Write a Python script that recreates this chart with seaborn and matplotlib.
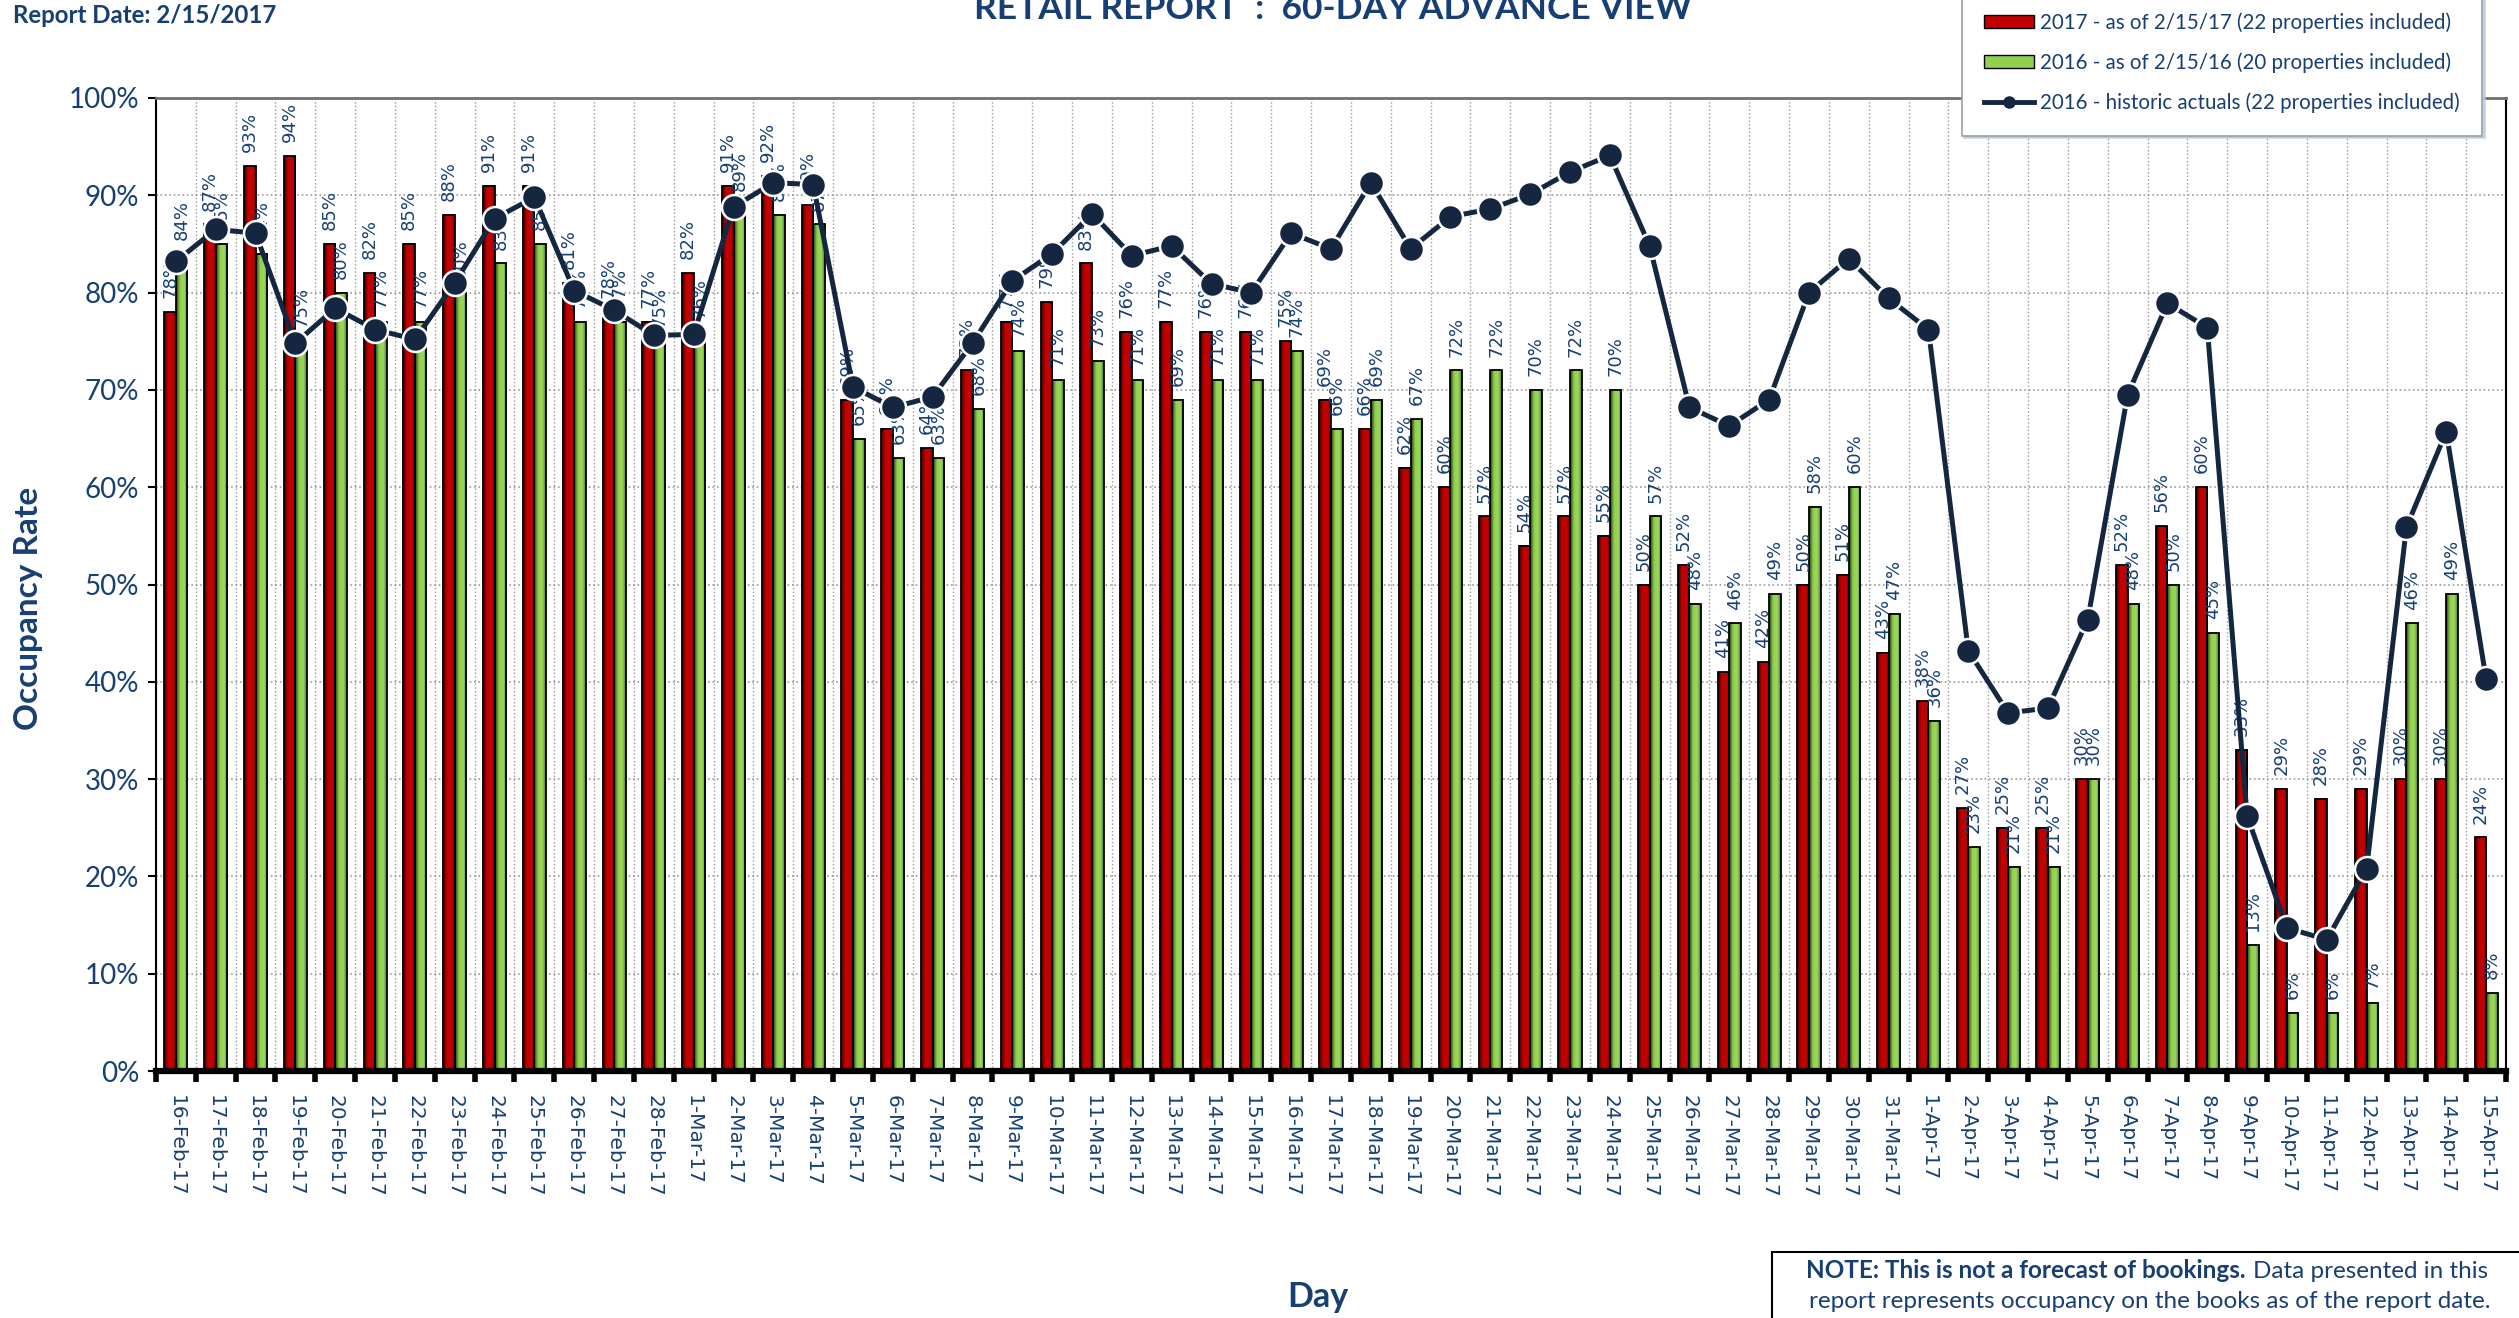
import numpy as np
import pandas as pd
import seaborn as sns
import matplotlib.pyplot as plt
from matplotlib.colors import LinearSegmentedColormap
from matplotlib.patches import Patch, Rectangle
from matplotlib.lines import Line2D
from matplotlib.ticker import FuncFormatter

days = (['%d-Feb-17' % d for d in range(16, 29)] + ['%d-Mar-17' % d for d in range(1, 32)]
        + ['%d-Apr-17' % d for d in range(1, 16)])

occ_2017 = [78, 87, 93, 94, 85, 82, 85, 88, 91, 91, 81, 78, 77, 82, 91, 92, 89, 69, 66, 64,
            72, 77, 79, 83, 76, 77, 76, 76, 75, 69, 66, 62, 60, 57, 54, 57, 55, 50, 52, 41,
            42, 50, 51, 43, 38, 27, 25, 25, 30, 52, 56, 60, 33, 29, 28, 29, 30, 30, 24]
occ_2016 = [84, 85, 84, 75, 80, 77, 77, 80, 83, 85, 77, 77, 75, 76, 89, 88, 87, 65, 63, 63,
            68, 74, 71, 73, 71, 69, 71, 71, 74, 66, 69, 67, 72, 72, 70, 72, 70, 57, 48, 46,
            49, 58, 60, 47, 36, 23, 21, 21, 30, 48, 50, 45, 13, 6, 6, 7, 46, 49, 8]
hist_2016 = [83.2, 86.5, 86.1, 74.8, 78.4, 76.2, 75.2, 81.0, 87.6, 89.8, 80.2, 78.2, 75.6, 75.7,
             88.8, 91.3, 91.1, 70.3, 68.2, 69.3, 74.8, 81.2, 84.0, 88.1, 83.8, 84.8, 80.9, 80.0,
             86.1, 84.5, 91.3, 84.5, 87.8, 88.6, 90.1, 92.4, 94.1, 84.8, 68.2, 66.3, 69.0, 80.0,
             83.5, 79.4, 76.2, 43.2, 36.8, 37.3, 46.4, 69.5, 78.9, 76.4, 26.2, 14.7, 13.5, 20.8,
             55.9, 65.7, 40.3]

series = ['2017 - as of 2/15/17 (22 properties included)',
          '2016 - as of 2/15/16 (20 properties included)']
line_name = '2016 - historic actuals (22 properties included)'

navy = '#142640'
blue_txt = '#173F73'
red = '#C00000'
green = '#92D050'

bars = pd.DataFrame({'day': days * 2,
                     'rate': occ_2017 + occ_2016,
                     'series': [series[0]] * len(days) + [series[1]] * len(days)})
hist = pd.DataFrame({'pos': np.arange(len(days)), 'rate': hist_2016})

fig = plt.figure(figsize=(25.19, 13.18), dpi=100)
ax = fig.add_axes([156 / 2519, 1 - 1071 / 1318, 2350 / 2519, 973 / 1318])

sns.barplot(data=bars, x='day', y='rate', hue='series', order=days, hue_order=series,
            palette=[red, green], width=0.58, edgecolor='black', linewidth=1.3,
            legend=False, ax=ax)

# excel style gradient fill on every bar
grad = np.linspace(0, 1, 64).reshape(1, -1)
cmaps = [LinearSegmentedColormap.from_list('r', [(0, '#1a0000'), (0.18, '#8a0000'), (0.35, '#c00000'),
                                                 (0.75, '#c40000'), (1, '#6a0000')]),
         LinearSegmentedColormap.from_list('g', [(0, '#1a2a0a'), (0.18, '#5e8f2e'), (0.35, '#92d050'),
                                                 (0.7, '#9ad85c'), (1, '#4f7826')])]
for cont, cm, vals in zip(ax.containers, cmaps, [occ_2017, occ_2016]):
    for rect in cont:
        x0, w, h = rect.get_x(), rect.get_width(), rect.get_height()
        ax.imshow(grad, cmap=cm, extent=(x0, x0 + w, 0, h), aspect='auto',
                  interpolation='bilinear', zorder=1.5)
        rect.set_facecolor('none')
        rect.set_zorder(1.6)
    ax.bar_label(cont, labels=['%d%%' % v for v in vals], rotation=90, padding=10,
                 color=blue_txt, fontsize=13, family='DejaVu Sans', zorder=3)

sns.lineplot(data=hist, x='pos', y='rate', color=navy, linewidth=3.6, marker='o',
             markersize=18, markeredgecolor='white', markeredgewidth=1.8,
             ax=ax, zorder=4, legend=False)

ax.set_xlim(-0.5, len(days) - 0.5)
ax.set_ylim(0, 100)
ax.set_yticks(np.arange(0, 101, 10))
ax.yaxis.set_major_formatter(FuncFormatter(lambda v, p: '%d%%' % v))
ax.set_xticks(np.arange(len(days)))
ax.set_xticklabels(days, rotation=270, fontsize=14.5, color=blue_txt, family='DejaVu Sans')
ax.set_xticks(np.arange(len(days) + 1) - 0.5, minor=True)
ax.tick_params(axis='x', which='major', length=0, pad=17)
ax.tick_params(axis='x', which='minor', length=8, width=4, color='black')
ax.tick_params(axis='y', length=6, width=1.5, color='black', labelsize=20, labelcolor=blue_txt, pad=6)
for t in ax.get_yticklabels():
    t.set_family('Lato')
ax.set_xlabel('')
ax.set_ylabel('')

ax.set_axisbelow(True)
ax.grid(which='minor', axis='x', ls=':', color='#9a9a9a', lw=1)
ax.grid(which='major', axis='y', ls=':', color='#9a9a9a', lw=1.2)
ax.grid(which='major', axis='x', visible=False)
ax.spines['bottom'].set_linewidth(4.5)
ax.spines['bottom'].set_color('black')
ax.spines['left'].set_color('black')
ax.spines['left'].set_linewidth(1.5)
ax.spines['right'].set_color('black')
ax.spines['right'].set_linewidth(1.5)
ax.spines['top'].set_color('#707070')
ax.spines['top'].set_linewidth(2)

handles = [Patch(facecolor=red, edgecolor='black', lw=1),
           Patch(facecolor=green, edgecolor='black', lw=1),
           Line2D([], [], color=navy, lw=3.5, marker='o', markersize=8)]
leg = ax.legend(handles, series + [line_name], loc='upper right',
                bbox_to_anchor=(2482 / 2519, 1.008), bbox_transform=fig.transFigure,
                borderaxespad=0, frameon=True, fancybox=False, edgecolor='#a0a0a0',
                shadow={'color': '#b7cbe8', 'alpha': 0.8},
                prop={'family': 'Lato', 'size': 14.8}, labelcolor=blue_txt,
                handlelength=2.4, handleheight=0.65, labelspacing=0.95,
                borderpad=1.1, handletextpad=0.3)
leg.get_frame().set_linewidth(1.2)
leg.set_zorder(10)

fig.text(13 / 2519, 1 - 4 / 1318, 'Report Date: 2/15/2017', fontsize=17.3, fontweight='bold',
         family='Lato', color=blue_txt, ha='left', va='top')
fig.text(1333 / 2519, 1 - 19 / 1318, 'RETAIL REPORT  :  60-DAY ADVANCE VIEW', fontsize=25.5,
         fontweight='bold', family='Lato', color=blue_txt, ha='center', va='baseline')
fig.text(29 / 2519, 1 - 608 / 1318, 'Occupancy Rate', fontsize=24, fontweight='bold',
         family='Lato', color=blue_txt, rotation=90, ha='center', va='center')
fig.text(1318 / 2519, 1 - 1297 / 1318, 'Day', fontsize=24.5, fontweight='bold',
         family='Lato', color=blue_txt, ha='center', va='center')

fig.patches.append(Rectangle((1772 / 2519, -0.01), 0.4, 1 - 1252 / 1318 + 0.01,
                             transform=fig.transFigure, facecolor='white',
                             edgecolor='black', lw=1.5))
fig.text(2245 / 2519, 1 - 1271 / 1318, 'NOTE: This is not a forecast of bookings.', fontsize=17.5,
         fontweight='bold', family='Lato', color=blue_txt, ha='right', va='center')
fig.text(2253 / 2519, 1 - 1271 / 1318, 'Data presented in this', fontsize=17.5,
         family='Lato', color=blue_txt, ha='left', va='center')
fig.text(2150 / 2519, 1 - 1302 / 1318, 'report represents occupancy on the books as of the report date.',
         fontsize=17.5, family='Lato', color=blue_txt, ha='center', va='center')

fig.savefig('out.png', dpi=100)
